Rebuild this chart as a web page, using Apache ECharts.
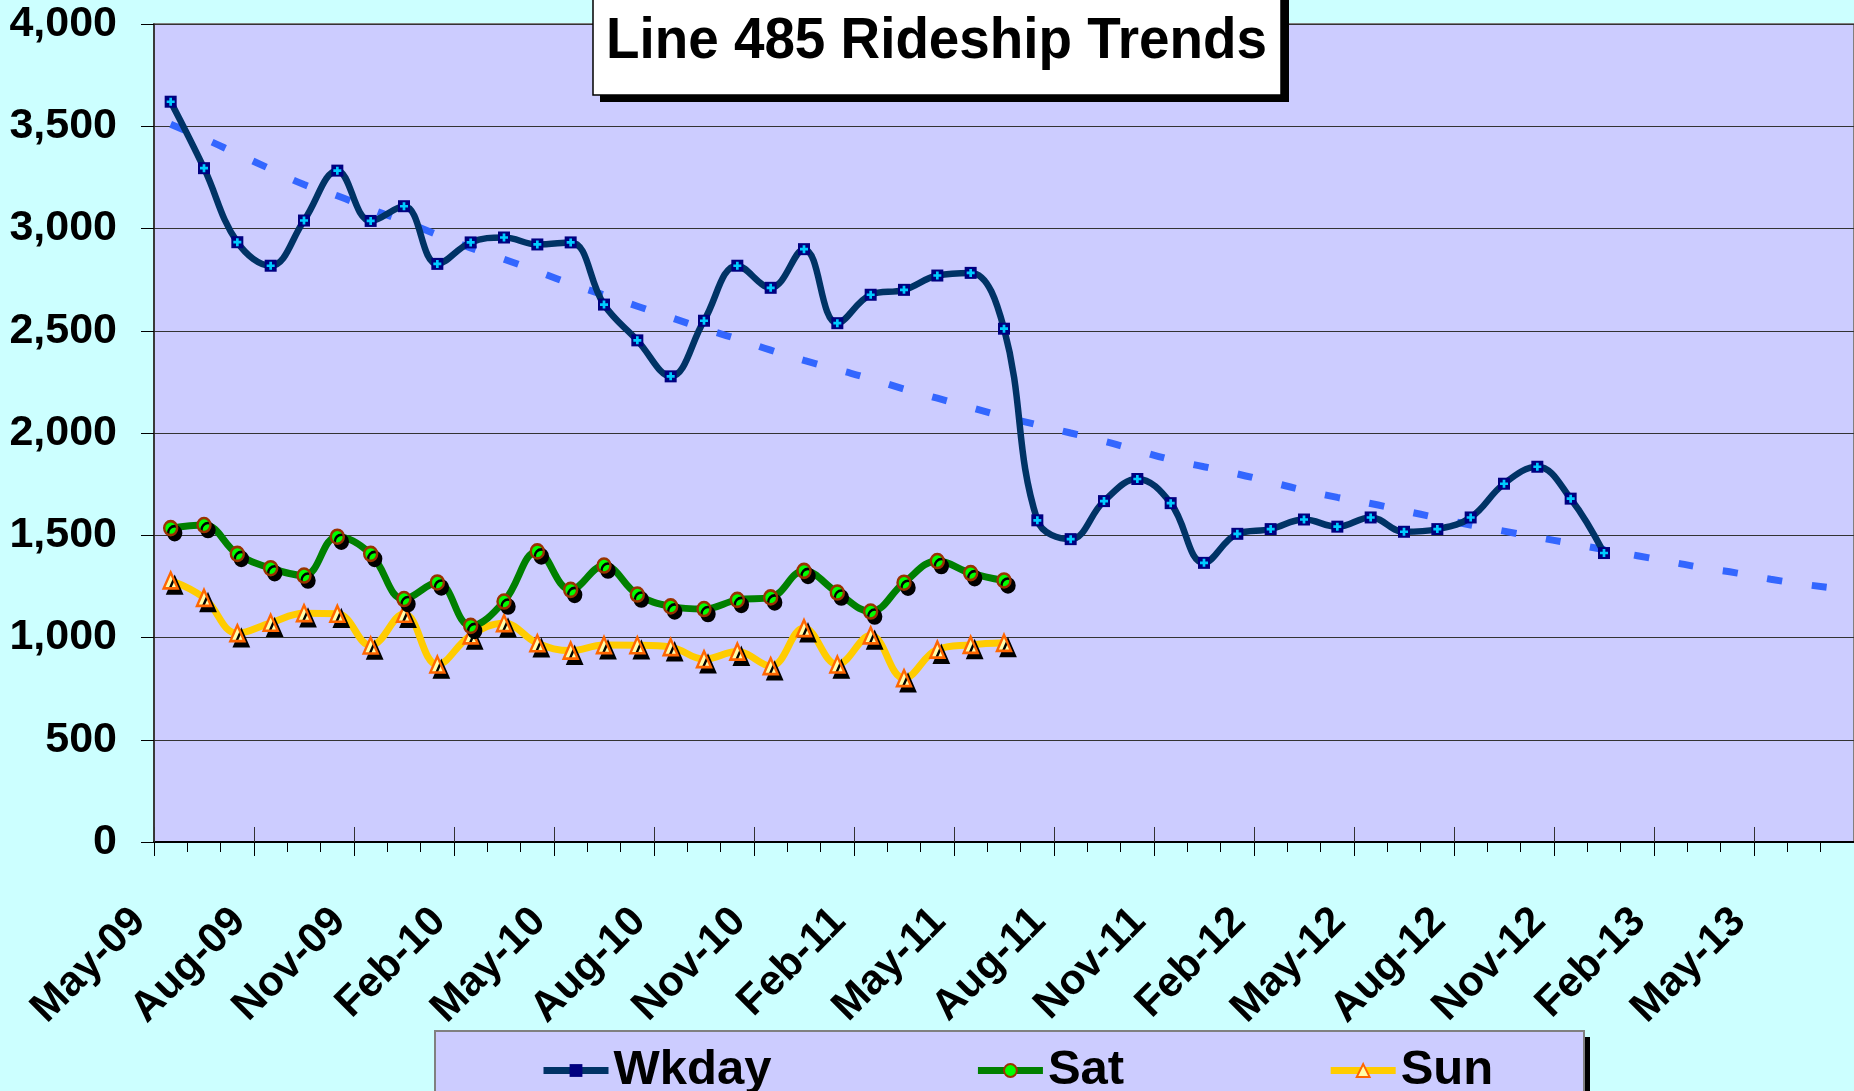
<!DOCTYPE html>
<html><head><meta charset="utf-8">
<script src="https://cdn.jsdelivr.net/npm/echarts@6/dist/echarts.min.js"></script>
<style>html,body{margin:0;padding:0;background:#CCFFFF;}#c{width:1854px;height:1091px;}</style>
</head><body><div id="c"></div>
<script>
const tickLabels = ['May-09','Aug-09','Nov-09','Feb-10','May-10','Aug-10','Nov-10','Feb-11','May-11','Aug-11','Nov-11','Feb-12','May-12','Aug-12','Nov-12','Feb-13','May-13'];
const wkday = [3620,3295,2933,2818,3039,3283,3037,3109,2827,2932,2956,2922,2932,2628,2453,2277,2549,2818,2710,2899,2537,2676,2700,2770,2783,2510,1573,1481,1667,1775,1657,1365,1507,1530,1577,1542,1587,1517,1530,1587,1752,1835,1679,1413];
const sat = [1535,1550,1409,1339,1303,1493,1409,1188,1269,1057,1176,1421,1233,1352,1210,1152,1139,1184,1196,1326,1220,1127,1268,1374,1315,1279];
const sun = [1279,1194,1021,1072,1119,1116,961,1116,868,1010,1070,972,936,963,962,953,894,931,860,1046,868,1010,801,941,964,974];
const trend = [3510,3440,3365,3290,3215,3160,3095,3035,2970,2905,2850,2790,2730,2675,2620,2565,2510,2460,2405,2355,2310,2265,2215,2170,2125,2080,2040,2000,1960,1915,1870,1835,1800,1760,1720,1685,1655,1620,1585,1550,1520,1490,1460,1430,1400,1370,1340,1315,1285,1260,1240];
const titleText = 'Line 485 Rideship Trends';

const FONT = "'Liberation Sans', Arial, sans-serif";
const toXY = arr => arr.map((v, i) => [i + 0.5, v]);
const fmtNum = v => String(v).replace(/\B(?=(\d{3})+(?!\d))/g, ',');

const chart = echarts.init(document.getElementById('c'));
const shadow = {shadowColor: '#000', shadowOffsetX: 4, shadowOffsetY: 5, shadowBlur: 0};

chart.setOption({
  backgroundColor: '#CCFFFF',
  animation: false,
  legend: {
    data: ['Wkday', 'Sat', 'Sun'], left: 535, top: 1041, z: 10,
    itemWidth: 65, itemHeight: 16, itemGap: 203,
    lineStyle: {width: 7},
    textStyle: {fontFamily: FONT, fontSize: 49, fontWeight: 'bold', color: '#000'}
  },
  graphic: [
    {type: 'rect', z: 5, shape: {x: 600, y: -20, width: 689, height: 122}, style: {fill: '#000'}},
    {type: 'rect', z: 5, shape: {x: 593, y: -20, width: 688, height: 115}, style: {fill: '#fff', stroke: '#000', lineWidth: 1.5}},
    {type: 'text', z: 10, x: 606, y: 42, scaleX: 0.945, originX: 0, originY: 0,
      style: {text: titleText, font: "bold 58px 'Liberation Sans', Arial, sans-serif", fill: '#000', textAlign: 'left', textVerticalAlign: 'middle'}},
    {type: 'rect', z: 5, shape: {x: 441, y: 1037, width: 1149, height: 80}, style: {fill: '#000'}},
    {type: 'rect', z: 5, shape: {x: 435, y: 1031, width: 1149, height: 80}, style: {fill: '#CCCCFF', stroke: '#808080', lineWidth: 2}}
  ],
  grid: {left: 154, top: 24, right: -3, bottom: 249, show: true, backgroundColor: '#CCCCFF', borderColor: '#808080', borderWidth: 2},
  xAxis: [{
    type: 'value', min: 0, max: 51, interval: 3, position: 'bottom',
    axisLine: {show: true, onZero: false, lineStyle: {color: '#000', width: 2}},
    axisTick: {show: true, length: 14, lineStyle: {color: '#000', width: 1}},
    minorTick: {show: true, splitNumber: 3, length: 10, lineStyle: {color: '#000', width: 1}},
    splitLine: {show: false}, minorSplitLine: {show: false},
    axisLabel: {
      rotate: 45, margin: 88, verticalAlign: 'bottom', fontFamily: FONT, fontSize: 42, fontWeight: 'bold', color: '#000',
      showMaxLabel: false,
      formatter: v => { const k = Math.round(v / 3); return tickLabels[k] !== undefined ? tickLabels[k] : ''; }
    }
  }, {
    type: 'value', min: 0, max: 51, interval: 3, position: 'bottom',
    axisLine: {show: false},
    axisTick: {show: true, inside: true, length: 15, lineStyle: {color: '#333', width: 1}},
    axisLabel: {show: false}, splitLine: {show: false}
  }],
  yAxis: {
    type: 'value', min: 0, max: 4000, interval: 500,
    axisLine: {show: true, lineStyle: {color: '#222', width: 1.5}},
    axisTick: {show: true, length: 13, lineStyle: {color: '#000'}},
    splitLine: {show: true, lineStyle: {color: '#333', width: 1.2}},
    axisLabel: {margin: 37, fontFamily: FONT, fontSize: 43, fontWeight: 'bold', color: '#000', formatter: fmtNum}
  },
  series: [
    {
      name: 'Trend', type: 'line', data: toXY(trend), smooth: true, showSymbol: false, symbol: 'none', silent: true,
      lineStyle: {color: '#3366FF', width: 7, type: [15, 30]}, z: 1
    },
    {
      name: 'Sun', type: 'line', data: toXY(sun), smooth: 0.4,
      lineStyle: {color: '#FFCC00', width: 7},
      symbol: 'triangle', symbolSize: [14, 16],
      itemStyle: Object.assign({color: '#FFFFAA', borderColor: '#FF6600', borderWidth: 2.5}, shadow)
    },
    {
      name: 'Sat', type: 'line', data: toXY(sat), smooth: 0.4,
      lineStyle: {color: '#008000', width: 7},
      symbol: 'circle', symbolSize: [13, 14],
      itemStyle: Object.assign({color: '#00FF00', borderColor: '#993300', borderWidth: 2.5}, shadow)
    },
    {
      name: 'Wkday', type: 'line', data: toXY(wkday), smooth: 0.4,
      lineStyle: {color: '#003366', width: 6.5},
      symbol: 'rect', symbolSize: 12,
      itemStyle: {color: '#000080', borderColor: '#000080', borderWidth: 0}
    },
    {
      name: 'WkdayPlus', type: 'line', data: toXY(wkday), silent: true,
      lineStyle: {opacity: 0, width: 0},
      symbol: 'path://M2,0H4V2H6V4H4V6H2V4H0V2H2Z', symbolSize: 8,
      itemStyle: {color: '#00CCFF'}
    }
  ]
});
</script>
</body></html>
